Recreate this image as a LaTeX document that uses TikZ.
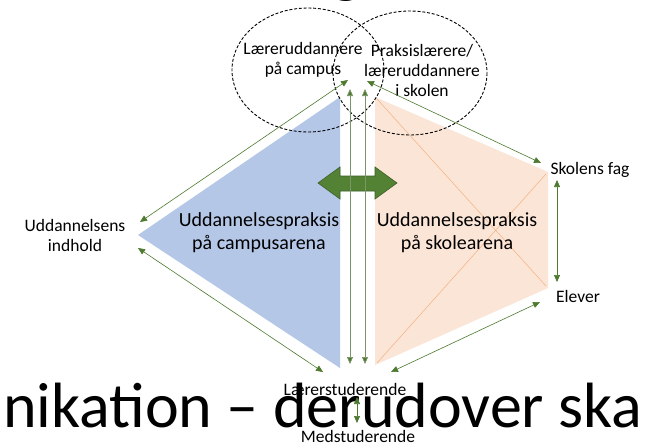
\documentclass[tikz,border=0pt]{standalone}
\usepackage{fontspec}
\setmainfont{Carlito}
\usetikzlibrary{arrows.meta}
\definecolor{bluefill}{HTML}{B4C7E7}
\definecolor{orangefill}{HTML}{FBE5D6}
\definecolor{orangeline}{HTML}{F4B183}
\definecolor{arrowgreen}{HTML}{4E7A30}
\definecolor{biggreen}{HTML}{548235}
\definecolor{biggreendark}{HTML}{3B5E27}
\definecolor{vertgreen}{HTML}{7A9668}
\tikzset{
  lbl/.style={font=\fontsize{17.5}{20}\selectfont, align=center, inner sep=0pt},
  biglbl/.style={font=\fontsize{20}{23}\selectfont, align=center, inner sep=0pt},
  conn/.style={draw=arrowgreen, line width=0.6pt, {Triangle[length=7pt,width=6pt]}-{Triangle[length=7pt,width=6pt]}},
  vconn/.style={draw=vertgreen, line width=0.7pt, {Triangle[length=7pt,width=6pt,fill=arrowgreen]}-{Triangle[length=7pt,width=6pt,fill=arrowgreen]}},
  venn/.style={draw=black, line width=0.9pt, dash pattern=on 3pt off 1.8pt},
  slidetext/.style={font=\fontsize{64}{64}\selectfont, inner sep=0pt}
}
\begin{document}
\begin{tikzpicture}[x=1pt,y=-1pt]
\clip (0,0) rectangle (645,444);
\fill[white] (0,0) rectangle (645,444);
% background slide text
\node[slidetext, anchor=base] (titleg) at (347,-9) {g};
\node[slidetext, anchor=base west] (slide) at (3,427) {nikation – derudover ska};
% shapes
\fill[bluefill] (138,235) -- (340,97) -- (340,368) -- cycle;
\fill[orangefill] (375,97) -- (548,172) -- (548,288) -- (375,365) -- cycle;
\draw[orangeline, line width=0.5pt] (377,99) -- (546,286);
\draw[orangeline, line width=0.5pt] (377,363) -- (546,174);
% venn ellipses
\draw[venn] (308,70) ellipse [x radius=76, y radius=62];
\draw[venn] (410,73) ellipse [x radius=77, y radius=62];
% labels
\node[lbl] (lc) at (303,60) {Læreruddannere\\på campus};
\node[lbl] (ps) at (422,70) {Praksislærere/\\læreruddannere\\i skolen};
\node[lbl] (ui) at (75,235) {Uddannelsens\\indhold};
\node[lbl] (sf) at (590,170) {Skolens fag};
\node[lbl] (el) at (578,296) {Elever};
\node[lbl] (ls) at (345,389) {Lærerstuderende};
\node[lbl] (ms) at (358,436) {Medstuderende};
\node[biglbl] (camp) at (259,233) {Uddannelsespraksis\\på campusarena};
\node[biglbl] (skol) at (457,233) {Uddannelsespraksis\\på skolearena};
% big double arrow
\filldraw[fill=biggreen, draw=biggreendark, line width=0.6pt]
  (318,183) -- (340,167) -- (340,176) -- (375,176) -- (375,167) -- (397,183)
  -- (375,199) -- (375,191) -- (340,191) -- (340,199) -- cycle;
% connector endpoints
\coordinate (tl) at (348,80);
\coordinate (tr) at (367,81);
\coordinate (uiup) at (140,222);
\coordinate (uilo) at (138,248);
\coordinate (lsl) at (323,372);
\coordinate (lsr) at (391,372);
\coordinate (sfa) at (541,163);
\coordinate (ela) at (540,302);
\coordinate (v1t) at (350,89);
\coordinate (v1b) at (350,364);
\coordinate (v2t) at (365,89);
\coordinate (v2b) at (365,364);
\coordinate (sft) at (557,180);
\coordinate (elb) at (557,282);
\coordinate (lsb) at (357,397);
\coordinate (mst) at (357,423);
% connectors
\draw[conn] (uiup) -- (tl);
\draw[conn] (uilo) -- (lsl);
\draw[conn] (tr) -- (sfa);
\draw[conn] (ela) -- (lsr);
\draw[vconn] (v1t) -- (v1b);
\draw[vconn] (v2t) -- (v2b);
\draw[conn] (sft) -- (elb);
\draw[conn] (lsb) -- (mst);
\end{tikzpicture}
\end{document}
